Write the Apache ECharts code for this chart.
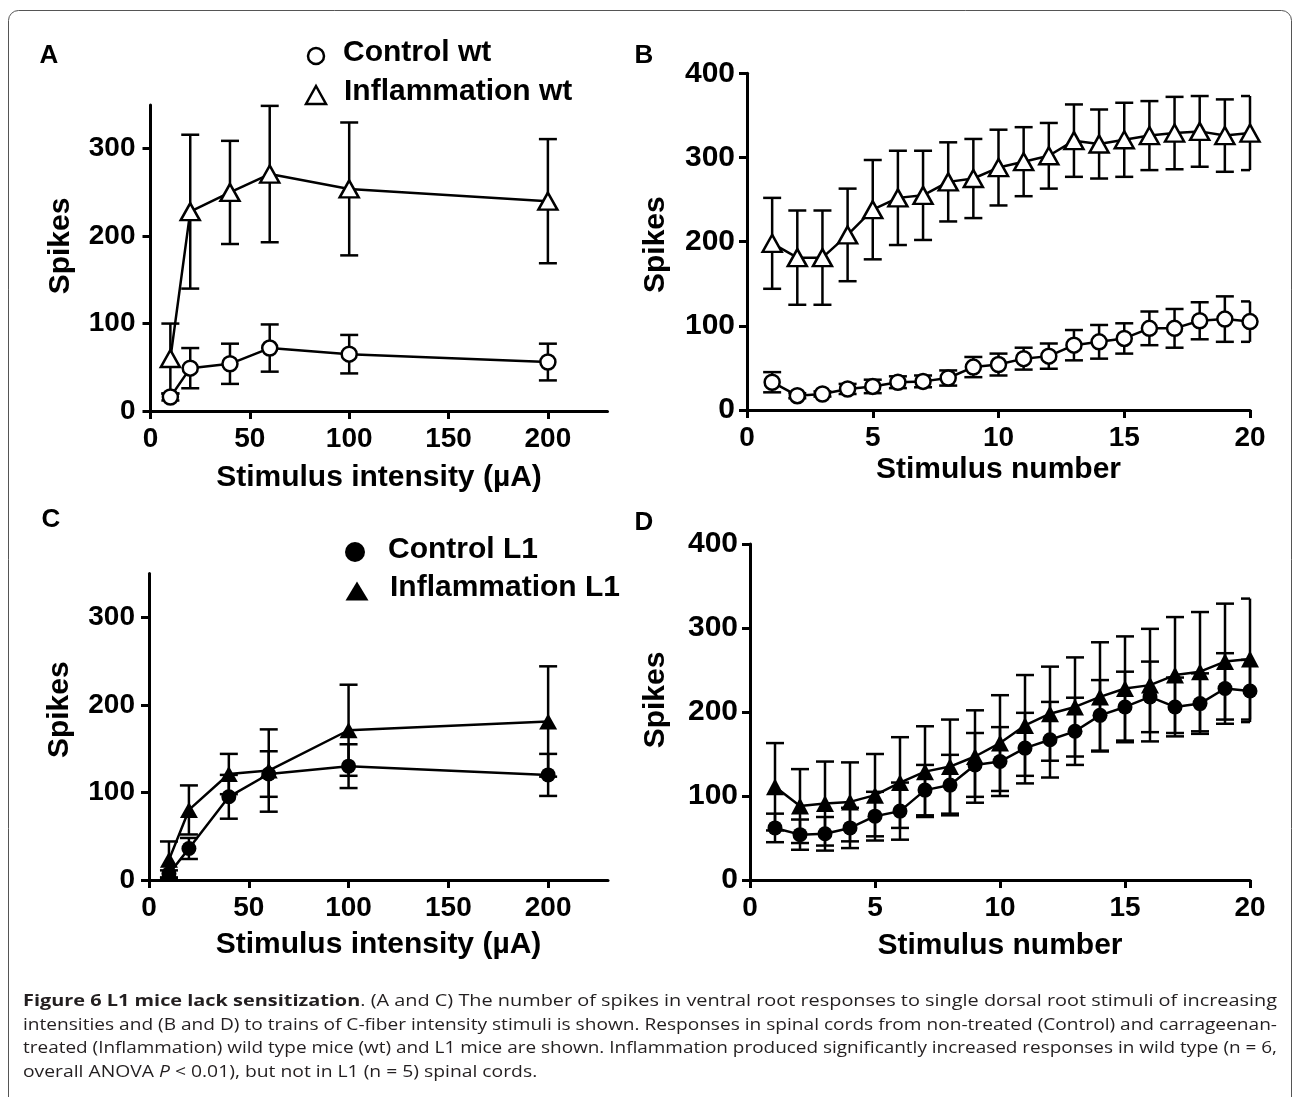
<!DOCTYPE html>
<html>
<head>
<meta charset="utf-8">
<script src="https://cdn.jsdelivr.net/npm/echarts@6/dist/echarts.min.js"></script>
<style>
  html, body { margin: 0; padding: 0; background: #fff; }
  #chart { position: absolute; left: 0; top: 0; width: 1293px; height: 1097px; }
  #caption { position: absolute; left: 23px; top: 989px; width: 1254px;
    font-family: 'Open Sans', 'Noto Sans', sans-serif; font-size: 16px; line-height: 23.5px; color: #231f20; }
  #caption .ln { display: block; white-space: nowrap; transform-origin: 0 0; width: max-content; }
  #caption b { font-weight: bold; }
</style>
</head>
<body>
<div id="chart"></div>
<div id="caption">
  <span class="ln j"><b>Figure 6 L1 mice lack sensitization</b>. (A and C) The number of spikes in ventral root responses to single dorsal root stimuli of increasing</span>
  <span class="ln j">intensities and (B and D) to trains of C-fiber intensity stimuli is shown. Responses in spinal cords from non-treated (Control) and carrageenan-</span>
  <span class="ln j">treated (Inflammation) wild type mice (wt) and L1 mice are shown. Inflammation produced significantly increased responses in wild type (n = 6,</span>
  <span class="ln">overall ANOVA <i>P</i> &lt; 0.01), but not in L1 (n = 5) spinal cords.</span>
</div>
<script>
// ---------- data ----------
// Panels A & C: stimulus intensity (µA)
var intensity = [10, 20, 40, 60, 100, 200];
var ctrlWt      = [16, 49, 54, 72, 65, 56];
var ctrlWtErr   = [4, 23, 23, 27, 22, 21];
var inflWt      = [60, 228, 250, 271, 254, 240];
var inflWtErr   = [40, 88, 59, 78, 76, 71];
var ctrlL1      = [7, 36, 95, 121, 130, 120];
var ctrlL1Err   = [4, 12, 25, 26, 25, 24];
var inflL1      = [23, 80, 121, 125, 171, 181];
var inflL1Err   = [21, 28, 23, 47, 52, 63];

// Panels B & D: stimulus number
var stimNum = [1,2,3,4,5,6,7,8,9,10,11,12,13,14,15,16,17,18,19,20];
var ctrlWtB     = [33, 17, 19, 25, 28, 33, 34, 38, 51, 54, 61, 64, 77, 81, 85, 97, 97, 106, 108, 105];
var ctrlWtBErr  = [12, 3, 3, 6, 8, 7, 7, 9, 12, 13, 13, 15, 18, 20, 18, 20, 23, 22, 27, 24];
var inflWtB     = [198, 181, 181, 208, 238, 252, 255, 271, 275, 288, 295, 302, 320, 316, 321, 326, 329, 331, 326, 329];
var inflWtBErr  = [54, 56, 56, 55, 59, 56, 53, 47, 47, 45, 41, 39, 43, 41, 44, 41, 43, 42, 43, 44];
var ctrlL1D     = [62, 54, 55, 62, 76, 82, 107, 113, 137, 141, 157, 167, 177, 196, 206, 218, 206, 210, 228, 225];
var ctrlL1DErr  = [17, 18, 20, 24, 29, 34, 30, 36, 38, 41, 42, 45, 40, 42, 42, 42, 35, 36, 42, 37];
var inflL1D     = [111, 88, 91, 93, 101, 116, 129, 135, 147, 163, 184, 198, 206, 218, 228, 232, 244, 248, 260, 263];
var inflL1DErr  = [52, 44, 50, 47, 49, 54, 54, 56, 55, 57, 60, 56, 59, 65, 62, 67, 69, 71, 69, 72];

// tick labels
var intensityTicks = [0, 50, 100, 150, 200];
var spikesTicksAC  = [0, 100, 200, 300];
var stimTicks      = [0, 5, 10, 15, 20];
var spikesTicksBD  = [0, 100, 200, 300, 400];

var xTitleAC = 'Stimulus intensity (\u00B5A)';
var xTitleBD = 'Stimulus number';
var yTitle   = 'Spikes';

// ---------- helpers ----------
var FONT = "'Liberation Sans', Arial, Helvetica, sans-serif";
var CAP = 18;

function pairs(xs, ys) { return xs.map(function (x, i) { return [x, ys[i]]; }); }
function triples(xs, ys, es) { return xs.map(function (x, i) { return [x, ys[i], es[i]]; }); }

function errorBarItem(params, api) {
  var x = api.value(0), y = api.value(1), e = api.value(2);
  var hi = api.coord([x, y + e]);
  var lo = api.coord([x, y - e]);
  var cs = params.coordSys;
  var left = hi[0] - CAP / 2;
  var right = Math.min(hi[0] + CAP / 2, cs.x + cs.width);
  var st = { stroke: '#000', lineWidth: 2.5 };
  return {
    type: 'group',
    children: [
      { type: 'line', shape: { x1: hi[0], y1: hi[1], x2: lo[0], y2: lo[1] }, style: st },
      { type: 'line', shape: { x1: left, y1: hi[1], x2: right, y2: hi[1] }, style: st },
      { type: 'line', shape: { x1: left, y1: lo[1], x2: right, y2: lo[1] }, style: st }
    ]
  };
}

function errSeries(idx, xs, ys, es) {
  return {
    type: 'custom', xAxisIndex: idx, yAxisIndex: idx, renderItem: errorBarItem,
    data: triples(xs, ys, es), encode: { x: 0, y: 1 }, z: 2, silent: true, clip: false
  };
}
function lineSeries(idx, name, xs, ys, symbol, size, filled) {
  return {
    type: 'line', name: name, xAxisIndex: idx, yAxisIndex: idx,
    data: pairs(xs, ys), symbol: symbol, symbolSize: size, showAllSymbol: true,
    lineStyle: { color: '#000', width: 2.5 },
    itemStyle: { color: filled ? '#000' : '#fff', borderColor: '#000', borderWidth: filled ? 0 : 2.5 },
    z: 3, silent: true, clip: false
  };
}

function xAxisCfg(idx, min, max, ticks, name, gap) {
  return {
    type: 'value', gridIndex: idx, min: min, max: max,
    name: name, nameLocation: 'middle', nameGap: gap,
    nameTextStyle: { fontFamily: FONT, fontWeight: 'bold', fontSize: 30, color: '#000' },
    axisLine: { show: true, onZero: false, lineStyle: { color: '#000', width: 3 } },
    axisTick: { show: true, length: 8, customValues: ticks, lineStyle: { color: '#000', width: 3 } },
    axisLabel: { customValues: ticks, margin: 14, fontFamily: FONT, fontWeight: 'bold', fontSize: 28, color: '#000' },
    splitLine: { show: false }
  };
}
function yAxisCfg(idx, min, max, ticks, gap, shift, labelSize, margin) {
  return {
    type: 'value', gridIndex: idx, min: min, max: max,
    name: yTitle, nameLocation: 'middle', nameGap: gap,
    nameTextStyle: { fontFamily: FONT, fontWeight: 'bold', fontSize: 30, color: '#000',
      padding: shift >= 0 ? [0, 0, 0, 2 * shift] : [0, -2 * shift, 0, 0] },
    axisLine: { show: true, onZero: false, lineStyle: { color: '#000', width: 3 } },
    axisTick: { show: true, length: 8, customValues: ticks, lineStyle: { color: '#000', width: 3 } },
    axisLabel: { customValues: ticks, margin: margin, fontFamily: FONT, fontWeight: 'bold', fontSize: labelSize, color: '#000' },
    splitLine: { show: false }
  };
}

function letter(txt, x, y) {
  return { type: 'text', x: x, y: y, style: { text: txt, fontFamily: FONT, fontWeight: 'bold', fontSize: 26,
    fill: '#000', align: 'center', verticalAlign: 'middle' } };
}
function legendText(txt, x, y) {
  return { type: 'text', x: x, y: y, style: { text: txt, fontFamily: FONT, fontWeight: 'bold', fontSize: 30,
    fill: '#000', align: 'left', verticalAlign: 'middle' } };
}
function triPts(cx, cy, w, h) { return [[cx, cy - h / 2], [cx + w / 2, cy + h / 2], [cx - w / 2, cy + h / 2]]; }

var chart = echarts.init(document.getElementById('chart'), null, { renderer: 'canvas' });
chart.setOption({
  animation: false,
  backgroundColor: '#fff',
  grid: [
    { left: 150.5, top: 105, width: 457, height: 306 },   // A
    { left: 747,   top: 73.3, width: 503, height: 336.7 },// B
    { left: 149,   top: 573.5, width: 459, height: 306.5 },// C
    { left: 750,   top: 544, width: 500, height: 336 }    // D
  ],
  xAxis: [
    xAxisCfg(0, 0, 230, intensityTicks, xTitleAC, 52),
    xAxisCfg(1, 0, 20, stimTicks, xTitleBD, 45),
    xAxisCfg(2, 0, 230, intensityTicks, xTitleAC, 50),
    xAxisCfg(3, 0, 20, stimTicks, xTitleBD, 51)
  ],
  yAxis: [
    yAxisCfg(0, 0, 350, spikesTicksAC, 75, 12, 28, 15),
    yAxisCfg(1, 0, 400, spikesTicksBD, 76, -3, 30, 12),
    yAxisCfg(2, 0, 350, spikesTicksAC, 74, 17, 28, 14),
    yAxisCfg(3, 0, 400, spikesTicksBD, 79, 12, 30, 12)
  ],
  series: [
    errSeries(0, intensity, inflWt, inflWtErr),
    errSeries(0, intensity, ctrlWt, ctrlWtErr),
    lineSeries(0, 'Inflammation wt', intensity, inflWt, 'triangle', [19, 17], false),
    lineSeries(0, 'Control wt', intensity, ctrlWt, 'circle', 15, false),

    errSeries(1, stimNum, inflWtB, inflWtBErr),
    errSeries(1, stimNum, ctrlWtB, ctrlWtBErr),
    lineSeries(1, 'Inflammation wt', stimNum, inflWtB, 'triangle', [19, 17], false),
    lineSeries(1, 'Control wt', stimNum, ctrlWtB, 'circle', 15, false),

    errSeries(2, intensity, inflL1, inflL1Err),
    errSeries(2, intensity, ctrlL1, ctrlL1Err),
    lineSeries(2, 'Inflammation L1', intensity, inflL1, 'triangle', [18, 16], true),
    lineSeries(2, 'Control L1', intensity, ctrlL1, 'circle', 15, true),

    errSeries(3, stimNum, inflL1D, inflL1DErr),
    errSeries(3, stimNum, ctrlL1D, ctrlL1DErr),
    lineSeries(3, 'Inflammation L1', stimNum, inflL1D, 'triangle', [18, 17], true),
    lineSeries(3, 'Control L1', stimNum, ctrlL1D, 'circle', 15, true)
  ],
  graphic: [
    { type: 'rect', shape: { x: 8.5, y: 10.5, width: 1283, height: 1300, r: 10 },
      style: { fill: 'none', stroke: '#555', lineWidth: 1 }, silent: true },
    letter('A', 49, 56), letter('B', 644, 56), letter('C', 51, 520), letter('D', 644, 523),
    // legend A
    { type: 'circle', shape: { cx: 316, cy: 56, r: 8 }, style: { fill: '#fff', stroke: '#000', lineWidth: 2.5 } },
    legendText('Control wt', 343, 53),
    { type: 'polygon', shape: { points: triPts(316, 95, 20, 18) }, style: { fill: '#fff', stroke: '#000', lineWidth: 2.5 } },
    legendText('Inflammation wt', 344, 92),
    // legend C
    { type: 'circle', shape: { cx: 355, cy: 552, r: 10 }, style: { fill: '#000' } },
    legendText('Control L1', 388, 550),
    { type: 'polygon', shape: { points: triPts(357, 591, 23, 19) }, style: { fill: '#000' } },
    legendText('Inflammation L1', 390, 588)
  ]
});

// caption: stretch justified lines to the full caption width
function fitCaption() {
  var lines = document.querySelectorAll('#caption .ln');
  var target = 1254, sum = 0, n = 0;
  lines.forEach(function (el) { el.style.transform = 'none'; });
  lines.forEach(function (el) {
    if (el.classList.contains('j')) {
      var s = target / el.getBoundingClientRect().width;
      el.style.transform = 'scaleX(' + s + ')';
      sum += s; n++;
    }
  });
  var avg = n ? sum / n : 1;
  lines.forEach(function (el) {
    if (!el.classList.contains('j')) el.style.transform = 'scaleX(' + avg + ')';
  });
}
fitCaption();
if (document.fonts && document.fonts.ready) document.fonts.ready.then(fitCaption);
</script>
</body>
</html>
